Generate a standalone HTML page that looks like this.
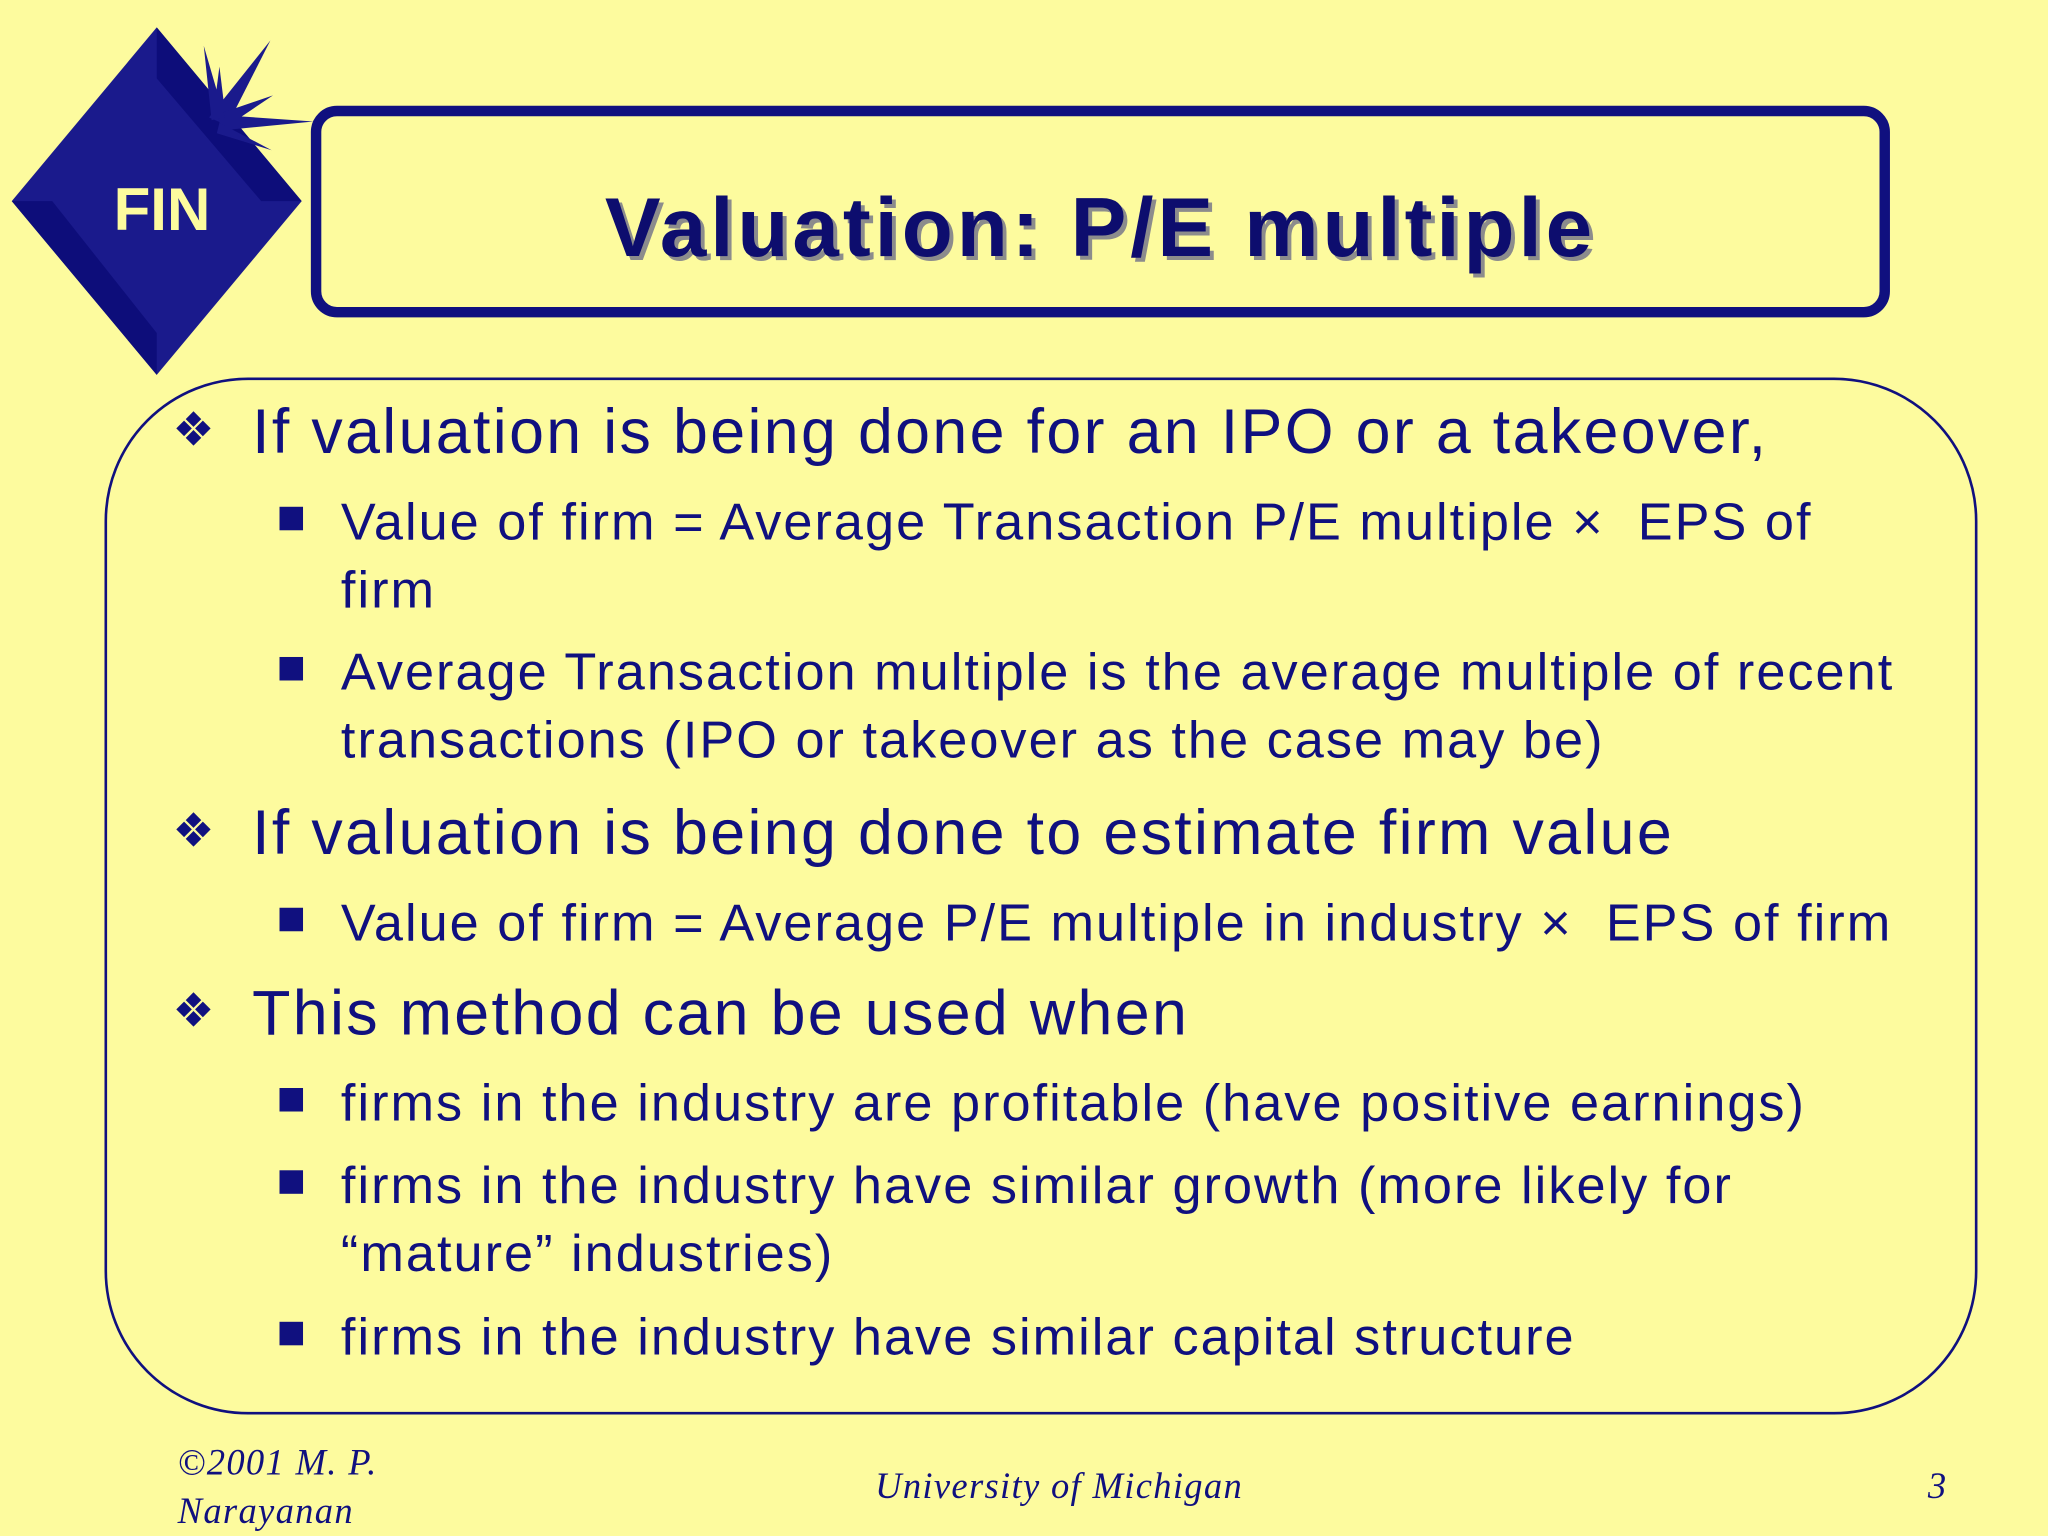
<!DOCTYPE html>
<html><head><meta charset="utf-8"><style>
html,body{margin:0;padding:0;background:#FDFB9E;}
#stage{position:relative;width:1568px;height:1176px;transform:scale(1.306122);transform-origin:0 0;background:#FDFB9E;overflow:hidden;color:#10107F;font-family:"Liberation Sans",sans-serif;}
.a{position:absolute;white-space:nowrap;line-height:1;}
.l1{font-size:48px;left:193px;letter-spacing:1.8px;}
.l2{font-size:40px;left:261px;letter-spacing:1.55px;}
.b1{font-size:36px;left:132px;font-family:"DejaVu Sans",sans-serif;}
.sq{position:absolute;left:214px;width:18px;height:18px;background:#10107F;}
.ft{font-family:"Liberation Serif",serif;font-style:italic;font-size:28px;letter-spacing:1px;}
</style></head><body>
<div id="stage">
<svg class="a" style="left:0;top:0" width="260" height="300">
<polygon points="120,21 231,154 120,287 9,154" fill="#1A1A8C"/>
<polygon points="120,21 231,154 200,154 120,60" fill="#0D0D7A"/>
<polygon points="9,154 120,287 120,255 40,154" fill="#0D0D7A"/>
<g fill="#1A1A8C">
<polygon points="160,90 207,31 174,96"/>
<polygon points="163,90 168,51 173,92"/>
<polygon points="165,88 209,73 172,98"/>
<polygon points="168,88 240,93 168,100"/>
<polygon points="168,94 208,115 166,102"/>
<polygon points="162,92 156,35 172,90"/>
</g>
<text x="124" y="176" text-anchor="middle" font-family="Liberation Sans" font-weight="bold" font-size="46" fill="#FDFB9E">FIN</text>
</svg>
<div class="a" style="left:238px;top:81px;width:1193px;height:146px;border:8px solid #10107F;border-radius:20px;"></div>
<div class="a" style="left:238px;width:1209px;top:142px;text-align:center;font-size:64px;letter-spacing:3px;font-weight:bold;color:#0D0D6E;text-shadow:3px 3px 0 #8C8C8C;">Valuation: P/E multiple</div>
<div class="a" style="left:80px;top:289px;width:1430px;height:790px;border:2px solid #10107F;border-radius:110px;"></div>

<div class="a b1" style="top:312px">❖</div>
<div class="a l1" style="top:308px">If valuation is being done for an IPO or a takeover,</div>
<div class="sq" style="top:388px"></div>
<div class="a l2" style="top:380px">Value of firm = Average Transaction P/E multiple × &nbsp;EPS of</div>
<div class="a l2" style="top:432px">firm</div>
<div class="sq" style="top:503px"></div>
<div class="a l2" style="top:495px">Average Transaction multiple is the average multiple of recent</div>
<div class="a l2" style="top:547px">transactions (IPO or takeover as the case may be)</div>

<div class="a b1" style="top:619px">❖</div>
<div class="a l1" style="top:615px">If valuation is being done to estimate firm value</div>
<div class="sq" style="top:695px"></div>
<div class="a l2" style="top:687px">Value of firm = Average P/E multiple in industry × &nbsp;EPS of firm</div>

<div class="a b1" style="top:757px">❖</div>
<div class="a l1" style="top:753px">This method can be used when</div>
<div class="sq" style="top:833px"></div>
<div class="a l2" style="top:825px">firms in the industry are profitable (have positive earnings)</div>
<div class="sq" style="top:896px"></div>
<div class="a l2" style="top:888px">firms in the industry have similar growth (more likely for</div>
<div class="a l2" style="top:940px">“mature” industries)</div>
<div class="sq" style="top:1012px"></div>
<div class="a l2" style="top:1004px">firms in the industry have similar capital structure</div>

<div class="a ft" style="left:136px;top:1107px">©2001 M. P.</div>
<div class="a ft" style="left:136px;top:1144px">Narayanan</div>
<div class="a ft" style="left:670px;top:1125px">University of Michigan</div>
<div class="a ft" style="left:1476px;top:1125px">3</div>
</div>
</body></html>
